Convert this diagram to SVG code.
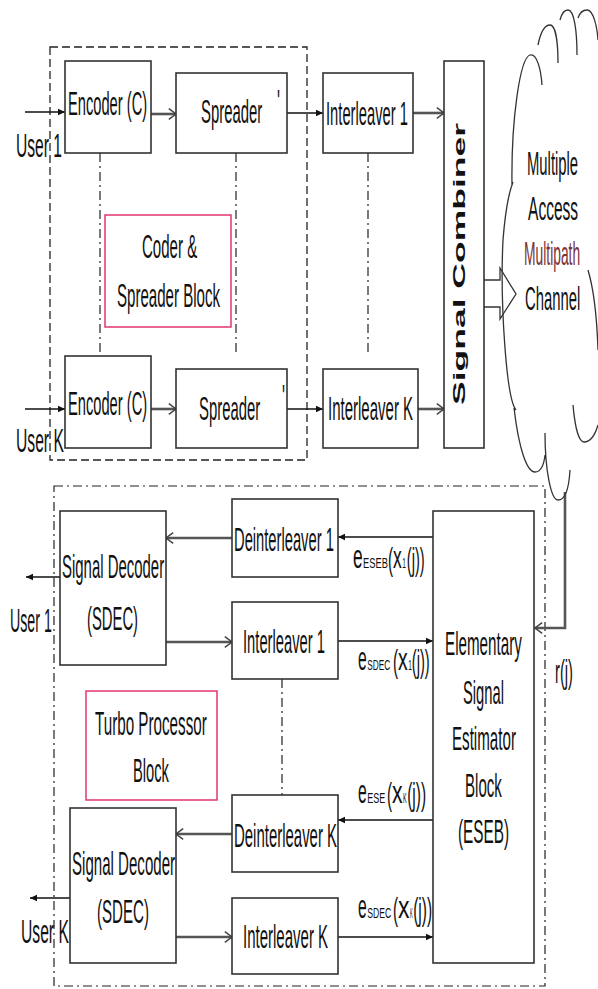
<svg xmlns="http://www.w3.org/2000/svg" width="598" height="989" viewBox="0 0 598 989">
<style>
text{font-family:"Liberation Sans",Arial,sans-serif;fill:#111;font-size:34px}
.box{fill:#fff;stroke:#333;stroke-width:1.6}
.pink{fill:#fff;stroke:#e33572;stroke-width:1.5}
.dash{fill:none;stroke:#222;stroke-width:1.3;stroke-dasharray:8 4}
.dd{fill:none;stroke:#222;stroke-width:1.2;stroke-dasharray:9 4 2 4}
.solid{fill:none;stroke:#111;stroke-width:1.5}
.gray{fill:none;stroke:#555;stroke-width:2.6}
.cloud{fill:none;stroke:#333;stroke-width:1.3}
.sub{font-size:15px}
.big{font-size:32px}
</style>
<defs>
<marker id="af" viewBox="0 0 10 10" refX="10" refY="5" markerWidth="7" markerHeight="8" orient="auto" markerUnits="userSpaceOnUse"><path d="M0,0.5 L10,5 L0,9.5 z" fill="#111"/></marker>
<marker id="ao" viewBox="0 0 10 14" refX="9" refY="7" markerWidth="9" markerHeight="14" orient="auto" markerUnits="userSpaceOnUse"><path d="M1,1 L9,7 L1,13" fill="none" stroke="#444" stroke-width="1.6"/></marker>
</defs>
<rect width="598" height="989" fill="#fff"/>

<g id="coder-spreader-frame"><rect class="dash" x="50" y="47" width="257" height="413"/></g>
<g id="turbo-frame"><rect class="dd" x="54" y="486" width="491" height="500"/></g>

<g id="connectors">
<line class="solid" x1="25" y1="112" x2="65" y2="112" marker-end="url(#af)"/>
<line class="gray" x1="151" y1="114" x2="176" y2="114" marker-end="url(#ao)"/>
<line class="solid" x1="287" y1="113" x2="323" y2="113" marker-end="url(#af)"/>
<line class="gray" x1="413" y1="113" x2="444" y2="113" marker-end="url(#ao)"/>
<line class="solid" x1="25" y1="409" x2="65" y2="409" marker-end="url(#af)"/>
<line class="gray" x1="151" y1="409" x2="176" y2="409" marker-end="url(#ao)"/>
<line class="solid" x1="287" y1="409" x2="323" y2="409" marker-end="url(#af)"/>
<line class="gray" x1="418" y1="409" x2="444" y2="409" marker-end="url(#ao)"/>
<line class="dd" x1="100" y1="153" x2="100" y2="353"/>
<line class="dd" x1="236" y1="153" x2="236" y2="353"/>
<line class="dd" x1="368" y1="153" x2="368" y2="353"/>
<path d="M484,280 L500,280 L500,268 L516,294 L500,319 L500,307 L484,307" fill="none" stroke="#333" stroke-width="1.3"/>
<polyline class="gray" points="565,492 565,628 535,628" stroke-width="2" marker-end="url(#ao)"/>
<line class="solid" x1="433" y1="537" x2="338" y2="537" marker-end="url(#af)"/>
<line class="gray" x1="232" y1="538" x2="166" y2="538" marker-end="url(#ao)"/>
<line class="solid" x1="60" y1="577" x2="26" y2="577" marker-end="url(#af)"/>
<line class="gray" x1="166" y1="642" x2="232" y2="642" marker-end="url(#ao)"/>
<line class="solid" x1="338" y1="641" x2="433" y2="641" marker-end="url(#af)"/>
<line class="dd" x1="282" y1="679" x2="282" y2="795"/>
<line class="solid" x1="433" y1="820" x2="338" y2="820" marker-end="url(#af)"/>
<line class="gray" x1="232" y1="834" x2="176" y2="834" marker-end="url(#ao)"/>
<line class="solid" x1="70" y1="898" x2="30" y2="898" marker-end="url(#af)"/>
<line class="gray" x1="176" y1="937" x2="232" y2="937" marker-end="url(#ao)"/>
<line class="solid" x1="338" y1="937" x2="433" y2="937" marker-end="url(#af)"/>
</g>

<g id="user1-in"><text transform="translate(16,157) scale(.46,1)" font-size="36" textLength="100" lengthAdjust="spacingAndGlyphs">User 1</text></g>
<g id="userK-in"><text transform="translate(16,452) scale(.46,1)" font-size="36" textLength="104" lengthAdjust="spacingAndGlyphs">User K</text></g>

<g id="encoder1"><rect class="box" x="65" y="61" width="86" height="92"/>
<text transform="translate(68,115) scale(.46,1)" textLength="172" lengthAdjust="spacingAndGlyphs">Encoder (C)</text></g>
<g id="spreader1"><rect class="box" x="176" y="73" width="111" height="80"/>
<text transform="translate(201,123) scale(.46,1)" textLength="133" lengthAdjust="spacingAndGlyphs">Spreader</text>
<text transform="translate(277,113) scale(.46,1)" font-size="12" fill="#444">'</text></g>
<g id="interleaver1-tx"><rect class="box" x="323" y="73" width="90" height="80"/>
<text transform="translate(326,125) scale(.46,1)" textLength="178" lengthAdjust="spacingAndGlyphs">Interleaver 1</text></g>

<g id="coder-spreader-label"><rect class="pink" x="105" y="215" width="126" height="112"/>
<text transform="translate(142,258) scale(.46,1)" textLength="120" lengthAdjust="spacingAndGlyphs">Coder &amp;</text>
<text transform="translate(117,307) scale(.46,1)" textLength="224" lengthAdjust="spacingAndGlyphs">Spreader Block</text></g>

<g id="encoderK"><rect class="box" x="65" y="356" width="86" height="92"/>
<text transform="translate(68,415) scale(.46,1)" textLength="172" lengthAdjust="spacingAndGlyphs">Encoder (C)</text></g>
<g id="spreaderK"><rect class="box" x="176" y="369" width="111" height="79"/>
<text transform="translate(199,420) scale(.46,1)" textLength="133" lengthAdjust="spacingAndGlyphs">Spreader</text>
<text transform="translate(282,408) scale(.46,1)" font-size="12" fill="#444">'</text></g>
<g id="interleaverK-tx"><rect class="box" x="323" y="369" width="95" height="79"/>
<text transform="translate(328,420) scale(.46,1)" textLength="185" lengthAdjust="spacingAndGlyphs">Interleaver K</text></g>

<g id="signal-combiner"><rect class="box" x="444" y="61" width="40" height="387"/>
<text transform="translate(465,264) scale(0.51,1) rotate(-90)" text-anchor="middle" font-size="35" font-weight="bold" textLength="282" lengthAdjust="spacingAndGlyphs">Signal Combiner</text></g>

<g id="channel">
<path class="cloud" d="M516,410 C506,398 500,300 503,240 C505,215 508,195 513,182 M512,186 C511,120 520,58 530,55 C537,53 541,70 542,85 M538,45 C541,30 545,25 550,25 C556,25 558,45 558,63 M560,20 C562,12 565,10 568,10 C574,10 577,30 577,55 M578,18 C580,12 584,10 587,10 C593,10 597,25 598,40 M588,270 C594,290 597,320 598,350 M573,405 C575,428 579,442 584,442 C590,442 595,435 598,425 M545,433 C545,470 551,500 558,500 C565,500 569,488 570,470 M514,408 C519,450 527,472 535,472 C541,472 544,464 545,455"/>
<text transform="translate(527,175) scale(.46,1)" textLength="111" lengthAdjust="spacingAndGlyphs">Multiple</text>
<text transform="translate(528,220) scale(.46,1)" textLength="109" lengthAdjust="spacingAndGlyphs">Access</text>
<text transform="translate(524,265) scale(.46,1)" font-size="31" style="fill:#7a3236" textLength="122" lengthAdjust="spacingAndGlyphs">Multipath</text>
<text transform="translate(525,310) scale(.46,1)" textLength="120" lengthAdjust="spacingAndGlyphs">Channel</text>
</g>

<g id="decoder1"><rect class="box" x="60" y="511" width="106" height="154"/>
<text transform="translate(62,578) scale(.46,1)" textLength="222" lengthAdjust="spacingAndGlyphs">Signal Decoder</text>
<text transform="translate(87,630) scale(.46,1)" textLength="111" lengthAdjust="spacingAndGlyphs">(SDEC)</text></g>
<g id="user1-out"><text transform="translate(10,632) scale(.46,1)" font-size="36" textLength="91" lengthAdjust="spacingAndGlyphs">User 1</text></g>

<g id="deinterleaver1"><rect class="box" x="232" y="499" width="106" height="78"/>
<text transform="translate(234,551) scale(.46,1)" textLength="217" lengthAdjust="spacingAndGlyphs">Deinterleaver 1</text></g>
<g id="interleaver1-rx"><rect class="box" x="232" y="602" width="106" height="77"/>
<text transform="translate(243,653) scale(.46,1)" textLength="178" lengthAdjust="spacingAndGlyphs">Interleaver 1</text></g>

<g id="label-eseb-1" transform="translate(353,0) scale(.46,1)">
<text x="0" y="568" font-size="36" textLength="21" lengthAdjust="spacingAndGlyphs">e</text>
<text x="22" y="568" class="sub" textLength="54" lengthAdjust="spacingAndGlyphs">ESEB</text>
<text x="76" y="570" class="big" textLength="11" lengthAdjust="spacingAndGlyphs">(</text>
<text x="87" y="568" class="big" textLength="19" lengthAdjust="spacingAndGlyphs">x</text>
<text x="107" y="568" class="sub" textLength="8" lengthAdjust="spacingAndGlyphs">1</text>
<text x="117" y="570" class="big" textLength="39" lengthAdjust="spacingAndGlyphs">(j))</text>
</g>
<g id="label-sdec-1" transform="translate(358,0) scale(.46,1)">
<text x="0" y="670" font-size="36" textLength="19" lengthAdjust="spacingAndGlyphs">e</text>
<text x="20" y="670" class="sub" textLength="50" lengthAdjust="spacingAndGlyphs">SDEC</text>
<text x="76" y="672" class="big" textLength="11" lengthAdjust="spacingAndGlyphs">(</text>
<text x="87" y="670" class="big" textLength="21" lengthAdjust="spacingAndGlyphs">x</text>
<text x="109" y="670" class="sub" textLength="8" lengthAdjust="spacingAndGlyphs">1</text>
<text x="117" y="672" class="big" textLength="39" lengthAdjust="spacingAndGlyphs">(j))</text>
</g>

<g id="rj-label"><text transform="translate(555,683) scale(.46,1)" font-size="32" textLength="39" lengthAdjust="spacingAndGlyphs">r(j)</text></g>

<g id="eseb"><rect class="box" x="433" y="511" width="101" height="452"/>
<text transform="translate(445,655) scale(.46,1)" textLength="167" lengthAdjust="spacingAndGlyphs">Elementary</text>
<text transform="translate(463,704) scale(.46,1)" textLength="89" lengthAdjust="spacingAndGlyphs">Signal</text>
<text transform="translate(452,750) scale(.46,1)" textLength="139" lengthAdjust="spacingAndGlyphs">Estimator</text>
<text transform="translate(465,797) scale(.46,1)" textLength="80" lengthAdjust="spacingAndGlyphs">Block</text>
<text transform="translate(458,843) scale(.46,1)" textLength="111" lengthAdjust="spacingAndGlyphs">(ESEB)</text></g>

<g id="turbo-label"><rect class="pink" x="86" y="691" width="131" height="109"/>
<text transform="translate(95,735) scale(.46,1)" textLength="243" lengthAdjust="spacingAndGlyphs">Turbo Processor</text>
<text transform="translate(133,782) scale(.46,1)" textLength="78" lengthAdjust="spacingAndGlyphs">Block</text></g>

<g id="label-ese-K" transform="translate(358,0) scale(.46,1)">
<text x="0" y="803" font-size="36" textLength="19" lengthAdjust="spacingAndGlyphs">e</text>
<text x="20" y="803" class="sub" textLength="39" lengthAdjust="spacingAndGlyphs">ESE</text>
<text x="63" y="805" class="big" textLength="11" lengthAdjust="spacingAndGlyphs">(</text>
<text x="74" y="803" class="big" textLength="23" lengthAdjust="spacingAndGlyphs">x</text>
<text x="98" y="803" class="sub" textLength="8" lengthAdjust="spacingAndGlyphs">K</text>
<text x="107" y="805" class="big" textLength="41" lengthAdjust="spacingAndGlyphs">(j))</text>
</g>

<g id="deinterleaverK"><rect class="box" x="232" y="795" width="106" height="77"/>
<text transform="translate(234,847) scale(.46,1)" textLength="224" lengthAdjust="spacingAndGlyphs">Deinterleaver K</text></g>

<g id="decoderK"><rect class="box" x="70" y="808" width="106" height="155"/>
<text transform="translate(72,875) scale(.46,1)" textLength="224" lengthAdjust="spacingAndGlyphs">Signal Decoder</text>
<text transform="translate(97,923) scale(.46,1)" textLength="113" lengthAdjust="spacingAndGlyphs">(SDEC)</text></g>
<g id="userK-out"><text transform="translate(21,943) scale(.46,1)" font-size="36" textLength="104" lengthAdjust="spacingAndGlyphs">User K</text></g>

<g id="label-sdec-K" transform="translate(358,0) scale(.46,1)">
<text x="0" y="918" font-size="36" textLength="19" lengthAdjust="spacingAndGlyphs">e</text>
<text x="20" y="918" class="sub" textLength="52" lengthAdjust="spacingAndGlyphs">SDEC</text>
<text x="76" y="920" class="big" textLength="11" lengthAdjust="spacingAndGlyphs">(</text>
<text x="87" y="918" class="big" textLength="25" lengthAdjust="spacingAndGlyphs">x</text>
<text x="113" y="918" class="sub" textLength="6" lengthAdjust="spacingAndGlyphs">K</text>
<text x="120" y="920" class="big" textLength="41" lengthAdjust="spacingAndGlyphs">(j))</text>
</g>

<g id="interleaverK-rx"><rect class="box" x="232" y="898" width="106" height="76"/>
<text transform="translate(243,948) scale(.46,1)" textLength="185" lengthAdjust="spacingAndGlyphs">Interleaver K</text></g>
</svg>
